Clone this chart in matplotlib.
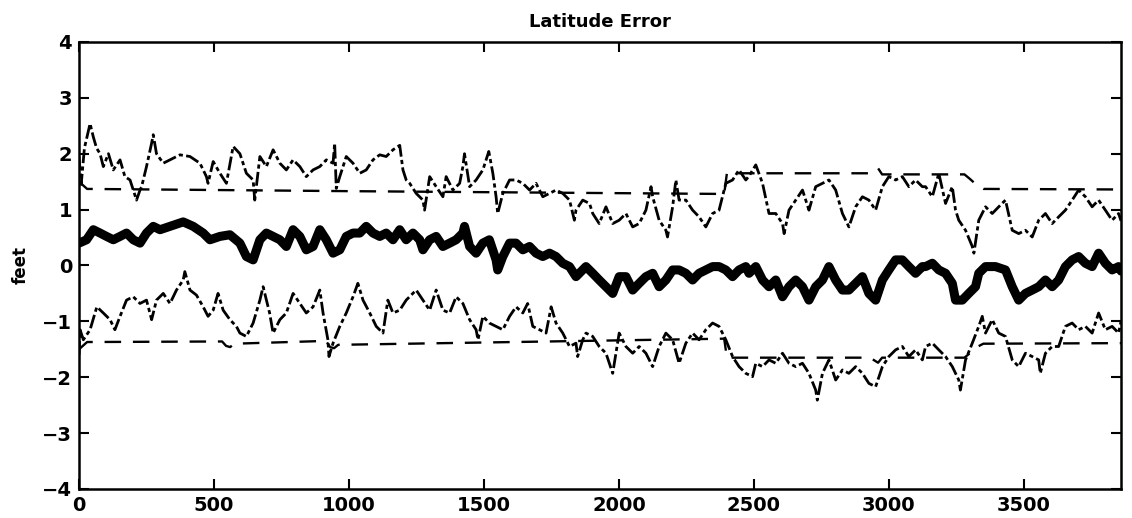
import matplotlib
matplotlib.use("Agg")
import matplotlib.pyplot as plt

# ---------------- data ----------------
upper_x = [0, 8, 20, 41, 53, 65, 78, 90, 109, 127, 152, 170, 189, 201, 213, 226, 232, 250, 269, 275,
           287, 312, 337, 374, 411, 448, 472, 478, 497, 522, 546, 571,
           596, 620, 645, 651, 670, 694, 719, 744, 768, 793, 818, 842, 867, 892, 916, 941, 947, 953,
           966, 990, 1015, 1040, 1064, 1089, 1114, 1138, 1163, 1188, 1200, 1212,
           1225, 1249, 1274, 1280, 1299, 1323, 1348, 1360, 1385, 1410, 1422, 1428, 1447, 1471, 1496,
           1518, 1533, 1545, 1551, 1570, 1595, 1619, 1644, 1669, 1693, 1718, 1743, 1767, 1792, 1817,
           1835, 1841, 1866, 1891, 1903, 1927, 1952, 1977, 2001, 2026, 2051, 2075, 2100, 2119, 2125,
           2149, 2174, 2180, 2199, 2211, 2223, 2248, 2273, 2297, 2322, 2347, 2371, 2396, 2421, 2445,
           2470, 2482, 2507, 2532, 2556, 2581, 2606, 2612, 2630, 2655, 2680, 2704, 2729, 2754, 2778,
           2803, 2828, 2852, 2877, 2902, 2926, 2951, 2976, 3000, 3025, 3050, 3074, 3099, 3124, 3136,
           3161, 3185, 3210, 3235, 3247, 3259, 3284, 3309, 3315, 3333, 3358, 3383, 3407, 3432, 3457,
           3481, 3506, 3531, 3555, 3580, 3605, 3629, 3654, 3679, 3703, 3728, 3753, 3777, 3802, 3827,
           3851, 3860]
upper_y = [1.95, 1.45, 2.10, 2.54, 2.30, 2.10, 2.00, 1.77, 2.00, 1.71, 1.89, 1.59, 1.53, 1.35, 1.17, 1.35,
           1.41, 1.77, 2.19, 2.34, 2.00, 1.83, 1.89, 1.98, 1.95, 1.83, 1.59, 1.47, 1.86, 1.65, 1.47, 2.13,
           2.00, 1.65, 1.53, 1.17, 1.95, 1.77, 2.07, 1.83, 1.71, 1.89, 1.77, 1.59, 1.71, 1.77, 1.89, 1.83,
           2.19, 1.38, 1.59, 1.95, 1.83, 1.65, 1.71, 1.89, 1.98, 1.95, 2.07, 2.15, 1.71, 1.53,
           1.47, 1.29, 1.17, 0.99, 1.59, 1.41, 1.23, 1.59, 1.35, 1.47, 1.77, 2.00, 1.41, 1.53, 1.71,
           2.04, 1.65, 1.23, 0.93, 1.29, 1.53, 1.53, 1.47, 1.35, 1.47, 1.23, 1.29, 1.35, 1.29, 1.17,
           0.81, 0.99, 1.17, 1.11, 0.93, 0.75, 1.05, 0.75, 0.81, 0.93, 0.69, 0.75, 0.99, 1.41, 1.23,
           0.81, 0.63, 0.51, 1.05, 1.53, 1.17, 1.17, 0.99, 0.87, 0.69, 0.93, 0.99, 1.47, 1.53, 1.71,
           1.53, 1.60, 1.80, 1.47, 0.93, 0.93, 0.75, 0.57, 0.99, 1.17, 1.35, 0.99, 1.41, 1.47, 1.53,
           1.35, 0.93, 0.69, 1.05, 1.23, 1.17, 0.99, 1.41, 1.59, 1.53, 1.59, 1.41, 1.53, 1.41, 1.41,
           1.23, 1.65, 1.11, 1.41, 0.99, 0.81, 0.63, 0.34, 0.22, 0.81, 1.05, 0.93, 1.05, 1.17, 0.63,
           0.57, 0.63, 0.51, 0.81, 0.93, 0.75, 0.87, 0.99, 1.17, 1.35, 1.23, 1.05, 1.17, 0.99, 0.81,
           0.93, 0.80]

center_x = [0, 28, 53, 78, 102, 127, 152, 176, 201, 226, 250, 275, 300, 337, 386, 423, 460, 485, 522,
            559, 596, 620, 645, 670, 694, 719, 744, 768, 793, 818, 842, 867, 892, 916, 941, 966, 990,
            1015, 1040, 1064, 1089, 1114, 1138, 1163, 1188, 1212, 1237, 1262, 1274, 1299, 1323, 1348,
            1373, 1397, 1422, 1428, 1447, 1471, 1496, 1520, 1545, 1551, 1570, 1595, 1619, 1644, 1669,
            1693, 1718, 1743, 1767, 1792, 1817, 1841, 1866, 1878, 1903, 1927, 1952, 1977, 2001, 2026,
            2051, 2075, 2100, 2125, 2149, 2174, 2199, 2223, 2248, 2273, 2297, 2322, 2347, 2371, 2396,
            2421, 2445, 2470, 2482, 2507, 2532, 2556, 2581, 2606, 2630, 2655, 2680, 2704, 2729, 2754,
            2778, 2803, 2828, 2852, 2877, 2902, 2926, 2951, 2976, 3000, 3025, 3050, 3074, 3099, 3124,
            3136, 3161, 3185, 3210, 3235, 3247, 3272, 3296, 3321, 3333, 3358, 3395, 3432, 3457, 3481,
            3506, 3531, 3555, 3580, 3605, 3629, 3654, 3679, 3703, 3728, 3753, 3777, 3802, 3827, 3851,
            3860]
center_y = [0.40, 0.46, 0.64, 0.58, 0.52, 0.46, 0.52, 0.58, 0.46, 0.40, 0.58, 0.70, 0.64, 0.70, 0.78,
            0.70, 0.58, 0.46, 0.52, 0.55, 0.40, 0.16, 0.10, 0.46, 0.58, 0.52, 0.46, 0.34, 0.64, 0.52,
            0.28, 0.34, 0.64, 0.46, 0.22, 0.28, 0.52, 0.58, 0.58, 0.70, 0.58, 0.52, 0.58, 0.46, 0.64,
            0.46, 0.58, 0.46, 0.28, 0.46, 0.52, 0.34, 0.40, 0.46, 0.58, 0.70, 0.34, 0.22, 0.40, 0.46,
            0.10, -0.08, 0.16, 0.40, 0.40, 0.28, 0.34, 0.22, 0.16, 0.22, 0.16, 0.04, -0.02, -0.20,
            -0.08, -0.02, -0.14, -0.26, -0.38, -0.50, -0.20, -0.20, -0.44, -0.32, -0.20, -0.14, -0.38,
            -0.26, -0.08, -0.08, -0.14, -0.26, -0.14, -0.08, -0.02, -0.02, -0.08, -0.20, -0.08, -0.02,
            -0.14, -0.02, -0.26, -0.38, -0.26, -0.56, -0.38, -0.26, -0.38, -0.62, -0.38, -0.26, -0.02,
            -0.26, -0.44, -0.44, -0.32, -0.20, -0.50, -0.62, -0.26, -0.08, 0.10, 0.10, -0.02, -0.14,
            -0.02, -0.02, 0.04, -0.08, -0.14, -0.32, -0.62, -0.62, -0.50, -0.38, -0.14, -0.02, -0.02,
            -0.08, -0.38, -0.62, -0.50, -0.44, -0.38, -0.26, -0.38, -0.26, -0.02, 0.10, 0.16, 0.04,
            -0.02, 0.22, 0.04, -0.08, -0.02, -0.10]

lower_x = [0, 4, 16, 41, 66, 90, 115, 133, 152, 176, 201, 226, 250, 269, 287, 312, 337, 361, 386, 392,
           411, 435, 460, 478, 497, 515, 534, 559, 583, 596, 620, 645, 670, 682, 706, 719, 744, 768,
           793, 818, 842, 867, 892, 904, 922, 926, 941, 966, 990, 1015, 1033, 1052, 1077, 1101, 1126,
           1144, 1163, 1188, 1212, 1237, 1249, 1274, 1299, 1323, 1348, 1373, 1397, 1422, 1447, 1471,
           1478, 1496, 1520, 1545, 1570, 1595, 1619, 1644, 1662, 1681, 1706, 1730, 1749, 1767, 1792,
           1817, 1841, 1847, 1866, 1878, 1903, 1927, 1952, 1977, 2001, 2026, 2051, 2075, 2100, 2125,
           2149, 2174, 2199, 2223, 2248, 2273, 2297, 2322, 2347, 2371, 2396, 2421, 2445, 2470, 2495,
           2507, 2532, 2556, 2581, 2606, 2630, 2655, 2680, 2704, 2729, 2735, 2754, 2778, 2803, 2828,
           2852, 2877, 2902, 2926, 2951, 2976, 3000, 3025, 3050, 3074, 3099, 3124, 3136, 3161, 3185,
           3210, 3235, 3259, 3265, 3284, 3309, 3333, 3346, 3358, 3383, 3407, 3432, 3457, 3481, 3506,
           3531, 3555, 3561, 3580, 3605, 3629, 3654, 3679, 3703, 3728, 3753, 3777, 3802, 3827, 3851,
           3860]
lower_y = [-1.60, -1.15, -1.33, -1.15, -0.74, -0.85, -0.97, -1.15, -0.91, -0.62, -0.56, -0.68, -0.62,
           -0.97, -0.62, -0.50, -0.68, -0.44, -0.26, -0.11, -0.44, -0.53, -0.74, -0.91, -0.80, -0.50,
           -0.80, -0.97, -1.09, -1.21, -1.27, -1.03, -0.62, -0.38, -0.85, -1.21, -0.97, -0.85, -0.50,
           -0.68, -0.85, -0.74, -0.44, -0.85, -1.33, -1.63, -1.39, -1.09, -0.85, -0.56, -0.32, -0.62,
           -0.85, -1.09, -1.21, -0.62, -0.85, -0.80, -0.62, -0.50, -0.44, -0.62, -0.80, -0.44, -0.80,
           -0.85, -0.56, -0.68, -0.97, -1.15, -1.33, -0.91, -1.03, -1.09, -1.15, -0.91, -0.74, -0.85,
           -0.68, -1.09, -1.15, -1.21, -0.74, -1.03, -1.21, -1.45, -1.39, -1.63, -1.33, -1.21, -1.27,
           -1.45, -1.57, -1.93, -1.21, -1.45, -1.57, -1.45, -1.57, -1.81, -1.45, -1.21, -1.33, -1.75,
           -1.39, -1.21, -1.33, -1.15, -1.03, -1.09, -1.33, -1.63, -1.81, -1.93, -1.99, -1.75, -1.81,
           -1.69, -1.75, -1.57, -1.75, -1.81, -1.75, -1.93, -2.23, -2.41, -1.93, -1.69, -2.05, -1.87,
           -1.93, -1.81, -1.93, -2.11, -2.17, -1.81, -1.63, -1.51, -1.45, -1.63, -1.51, -1.69, -1.45,
           -1.39, -1.51, -1.63, -1.81, -2.05, -2.23, -1.69, -1.39, -1.09, -0.91, -1.21, -0.97, -1.21,
           -1.27, -1.69, -1.81, -1.57, -1.63, -1.69, -1.93, -1.57, -1.45, -1.45, -1.09, -1.03, -1.15,
           -1.09, -1.21, -0.85, -1.15, -1.09, -1.21, -1.00]

bound_x = [0, 30, 1000, 2390, 2400, 2930, 2960, 2975, 3280, 3300, 3330, 3350, 3860]
bound_upper = [1.50, 1.37, 1.33, 1.28, 1.65, 1.65, 1.74, 1.63, 1.63, 1.55, 1.42, 1.37, 1.36]
bound_lower_x = [0, 30, 530, 545, 560, 575, 915, 930, 945, 960, 2390, 2400, 2930, 2960, 2975, 3280,
                 3300, 3330, 3350, 3860]
bound_lower = [-1.50, -1.37, -1.36, -1.44, -1.46, -1.40, -1.35, -1.46, -1.48, -1.42, -1.31, -1.65,
               -1.65, -1.74, -1.65, -1.65, -1.57, -1.45, -1.40, -1.39]

x_ticks = [0, 500, 1000, 1500, 2000, 2500, 3000, 3500]
y_ticks = [-4, -3, -2, -1, 0, 1, 2, 3, 4]

# ---------------- plotting ----------------
plt.rcParams['font.family'] = ['DejaVu Sans']
fig = plt.figure(figsize=(11.32, 5.18), dpi=100)
ax = fig.add_axes([0.0698, 0.056, 0.9205, 0.863])

noisy_style = (0, (5, 1.2, 1.5, 1.2))
ax.plot(upper_x, upper_y, color='black', lw=2.0, linestyle=noisy_style)
ax.plot(lower_x, lower_y, color='black', lw=2.0, linestyle=noisy_style)
ax.plot(center_x, center_y, color='black', lw=6.5, solid_capstyle='round', solid_joinstyle='round')
ax.plot(bound_x, bound_upper, color='black', lw=1.7, linestyle=(0, (7, 5)))
ax.plot(bound_lower_x, bound_lower, color='black', lw=1.7, linestyle=(0, (7, 5)))

ax.set_xlim(0, 3860)
ax.set_ylim(-4, 4)
ax.set_xticks(x_ticks)
ax.set_yticks(y_ticks)
ax.set_xticklabels([str(v) for v in x_ticks], fontsize=14, fontweight='bold')
ax.set_yticklabels([str(v).replace('-', '\u2212') for v in y_ticks], fontsize=14, fontweight='bold')
ax.tick_params(direction='in', length=7, width=1.5, top=True, right=True, pad=5)
for s in ax.spines.values():
    s.set_linewidth(1.8)

ax.set_title('Latitude Error', fontsize=13, fontweight='bold', pad=11)
ax.set_ylabel('feet', fontsize=12, fontweight='bold')
ax.yaxis.set_label_coords(-0.047, 0.5)

fig.savefig('out.png', dpi=100)
